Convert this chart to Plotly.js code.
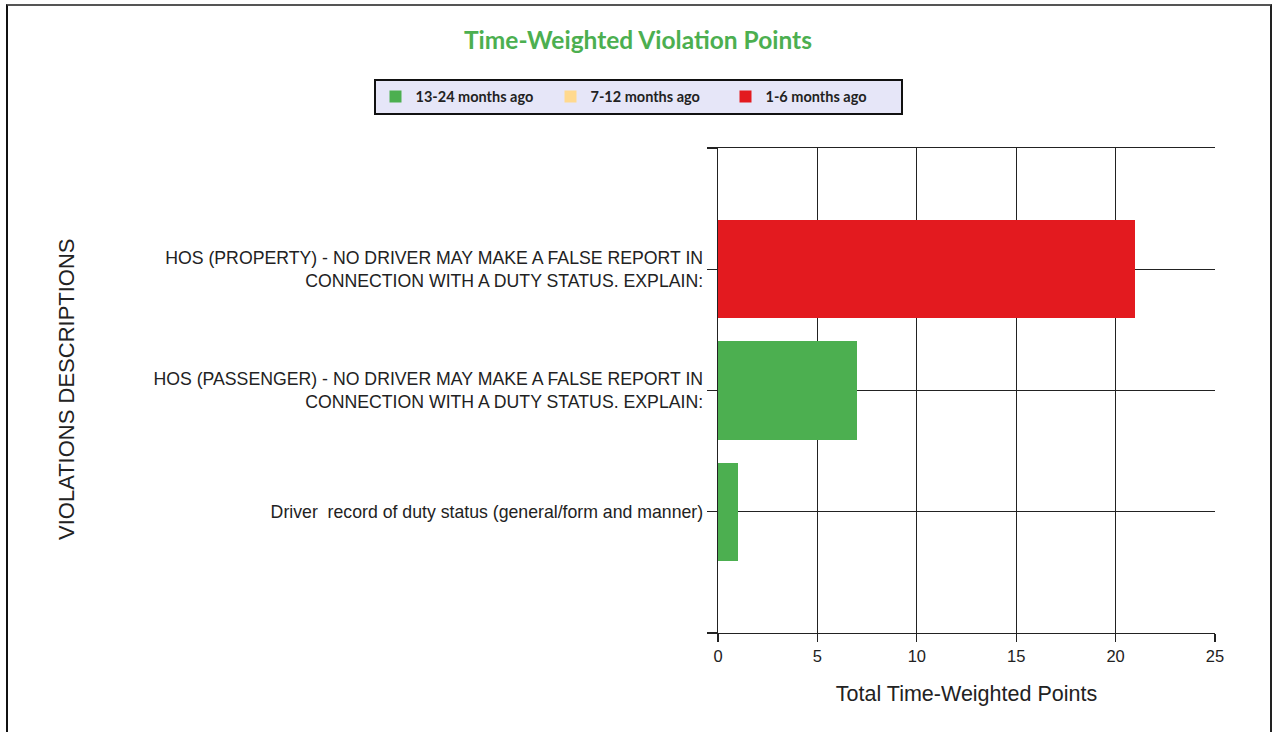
<!DOCTYPE html>
<html>
<head>
<meta charset="utf-8">
<script src="https://cdn.plot.ly/plotly-3.0.1.min.js"></script>
<style>
  html, body { margin: 0; padding: 0; background: #fff; overflow: hidden; }
  #wrap { position: relative; width: 1274px; height: 732px; }
  #chart { position: absolute; left: 0; top: 0; width: 1274px; height: 732px; }
  #frame { position: absolute; left: 6px; top: 4px; width: 1262px; height: 740px;
           border-left: 2px solid #111; border-top: 2px solid #555; border-right: 2px solid #222;
           pointer-events: none; }
</style>
</head>
<body>
<div id="wrap">
  <div id="chart"></div>
  <div id="frame"></div>
</div>
<script>
// ---- data ----
const categories = [
  "HOS (PROPERTY) - NO DRIVER MAY MAKE A FALSE REPORT IN<br>CONNECTION WITH A DUTY STATUS. EXPLAIN:",
  "HOS (PASSENGER) - NO DRIVER MAY MAKE A FALSE REPORT IN<br>CONNECTION WITH A DUTY STATUS. EXPLAIN:",
  "Driver  record of duty status (general/form and manner)"
];
const seriesNames = ["13-24 months ago", "7-12 months ago", "1-6 months ago"];
const months13to24 = [0, 7, 1];
const months7to12 = [0, 0, 0];
const months1to6 = [21, 0, 0];
const seriesColors = ["#4CAF50", "#FFD98F", "#E31A1F"];
const xTickVals = [0, 5, 10, 15, 20, 25];

const seriesValues = [months13to24, months7to12, months1to6];
const traces = seriesValues.map((vals, i) => ({
  type: "bar",
  orientation: "h",
  name: seriesNames[i],
  x: vals,
  y: categories,
  marker: { color: seriesColors[i], line: { width: 0 } },
  hoverinfo: "x+name"
}));

// y tick positions: category indices plus the two frame edges
const yTickVals = [-1].concat(categories.map((c, i) => i)).concat([categories.length]);
const yTickText = [""].concat(categories).concat([""]);

const layout = {
  width: 1274,
  height: 732,
  paper_bgcolor: "#ffffff",
  plot_bgcolor: "#ffffff",
  margin: { l: 718, r: 59, t: 148, b: 99, pad: 0 },
  barmode: "stack",
  bargap: 0.19,
  showlegend: true,
  title: {
    text: "<b>Time-Weighted Violation Points</b>",
    font: { family: "Lato, 'Open Sans', sans-serif", size: 24.5, color: "#4CAF50" },
    x: 638 / 1274, xanchor: "center", xref: "container",
    y: 1 - 40 / 732, yref: "container", yanchor: "middle",
    pad: { t: 0, b: 0, l: 0, r: 0 }
  },
  legend: {
    orientation: "h",
    x: (638 - 718) / 497, xanchor: "center", xref: "paper",
    y: 1 + (148 - 96.5) / 485, yanchor: "middle", yref: "paper",
    bgcolor: "#E6E6F8",
    bordercolor: "#111111",
    borderwidth: 2,
    font: { family: "Lato, 'DejaVu Sans', sans-serif", size: 14.5, color: "#222222", weight: "bold" },
    traceorder: "normal",
    entrywidth: 130,
    entrywidthmode: "pixels",
    itemwidth: 30
  },
  xaxis: {
    range: [0, 25],
    tickmode: "array",
    tickvals: xTickVals,
    ticks: "outside",
    ticklen: 8,
    tickcolor: "#222222",
    tickwidth: 1.3,
    showgrid: true,
    gridcolor: "#222222",
    gridwidth: 1.3,
    showline: true,
    linecolor: "#222222",
    linewidth: 1.3,
    mirror: true,
    zeroline: false,
    tickfont: { family: "'Liberation Sans', Arial, sans-serif", size: 16.5, color: "#222222" },
    title: {
      text: "Total Time-Weighted Points",
      font: { family: "'Liberation Sans', Arial, sans-serif", size: 21.5, color: "#222222" },
      standoff: 22
    },
    automargin: false,
    fixedrange: true
  },
  yaxis: {
    type: "category",
    categoryorder: "array",
    categoryarray: categories,
    range: [categories.length + 0.001, -1.001],
    tickmode: "array",
    tickvals: yTickVals,
    ticktext: yTickText,
    ticks: "outside",
    ticklen: 10,
    tickcolor: "#222222",
    tickwidth: 1.3,
    showgrid: true,
    gridcolor: "#222222",
    gridwidth: 1.3,
    showline: true,
    linecolor: "#222222",
    linewidth: 1.3,
    zeroline: false,
    tickfont: { family: "'Liberation Sans', Arial, sans-serif", size: 17.7, color: "#222222" },
    automargin: false,
    fixedrange: true
  },
  annotations: [{
    text: "VIOLATIONS DESCRIPTIONS",
    textangle: -90,
    xref: "paper", yref: "paper",
    x: (66 - 718) / 497, y: (633 - 389) / 485,
    xanchor: "center", yanchor: "middle",
    showarrow: false,
    font: { family: "'Liberation Sans', Arial, sans-serif", size: 22, color: "#222222" }
  }]
};

Plotly.newPlot("chart", traces, layout, { displayModeBar: false, staticPlot: true });
</script>
</body>
</html>
